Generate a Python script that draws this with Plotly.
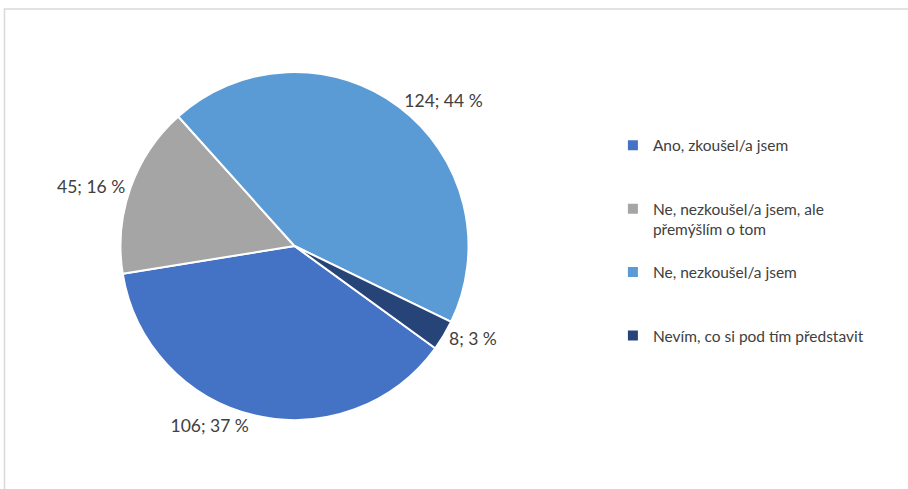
import plotly.graph_objects as go

# Survey answers and counts
categories = [
    "Ano, zkoušel/a jsem",
    "Ne, nezkoušel/a jsem, ale přemýšlím o tom",
    "Ne, nezkoušel/a jsem",
    "Nevím, co si pod tím představit",
]
legend_labels = [
    "Ano, zkoušel/a jsem",
    "Ne, nezkoušel/a jsem, ale<br>přemýšlím o tom",
    "Ne, nezkoušel/a jsem",
    "Nevím, co si pod tím představit",
]
counts = [106, 45, 124, 8]
colors = ["#4472C4", "#A5A5A5", "#5B9BD5", "#264478"]

total = sum(counts)
pct_text = [f"{round(100 * c / total)} %" for c in counts]

# pad legend entries so they spread down the right side
pad = ["<br> <br> ", "<br> ", "<br> <br> ", ""]
names = [l + p for l, p in zip(legend_labels, pad)]

W, H = 908, 489
cx, cy, r = 294.5, 246, 174

fig = go.Figure(
    go.Pie(
        labels=names,
        values=counts,
        text=pct_text,
        texttemplate="%{value}; %{text}",
        textposition="outside",
        textfont=dict(family="Lato", size=17.5, color="#404040"),
        marker=dict(colors=colors, line=dict(color="white", width=2)),
        sort=False,
        direction="clockwise",
        rotation=126,
        hoverinfo="label+value+percent",
        domain=dict(
            x=[(cx - r) / W, (cx + r) / W],
            y=[1 - (cy + r) / H, 1 - (cy - r) / H],
        ),
    )
)

fig.update_layout(
    width=W,
    height=H,
    margin=dict(l=0, r=0, t=0, b=0),
    paper_bgcolor="white",
    font=dict(family="Lato", size=15.5, color="#404040"),
    showlegend=True,
    legend=dict(
        x=0.675,
        y=0.737,
        xanchor="left",
        yanchor="top",
        valign="top",
        font=dict(family="Lato", size=15.5, color="#404040"),
        bgcolor="rgba(0,0,0,0)",
    ),
    shapes=[
        dict(
            type="rect", xref="paper", yref="paper",
            x0=4.5 / W, x1=1.05, y0=-0.05, y1=1 - 9 / H,
            line=dict(color="#D9D9D9", width=1.5),
            fillcolor="rgba(0,0,0,0)",
        )
    ],
)

fig.write_html("out.html")
